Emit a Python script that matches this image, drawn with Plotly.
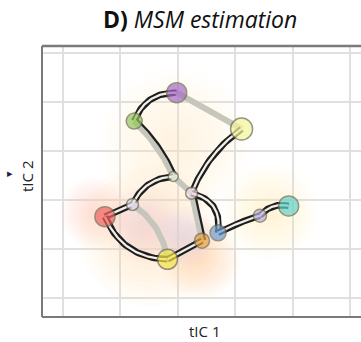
import numpy as np
import plotly.graph_objects as go

# ---- data (tIC units) ----
node_names = ["purple", "green", "lightyellow", "palegreen", "palepink", "lavenderL",
              "red", "yellow", "orange", "blue", "lavenderR", "cyan"]
node_x = [1.98, 1.24, 3.11, 1.92, 2.24, 1.21, 0.73, 1.82, 2.42, 2.70, 3.43, 3.93]
node_y = [4.19, 3.61, 3.45, 2.48, 2.14, 1.91, 1.66, 0.79, 1.17, 1.33, 1.68, 1.88]
node_r = [10, 8, 11, 5, 6, 6, 10, 10, 7.5, 8, 6.5, 10]
node_col = ["#a76bc6", "#93c55c", "#f5f59c", "#e9f1dd", "#f3d9e9", "#e9def0",
            "#f2625e", "#f4e44c", "#e8a33e", "#6d9dd1", "#b9b1dd", "#62d2ca"]

edge_a = ["green", "purple", "green", "lightyellow", "palegreen", "palegreen", "red",
          "lavenderL", "red", "palepink", "palepink", "yellow", "blue", "lavenderR"]
edge_b = ["purple", "lightyellow", "palegreen", "palepink", "lavenderL", "palepink", "lavenderL",
          "yellow", "yellow", "orange", "blue", "orange", "lavenderR", "cyan"]
edge_style = ["double", "gray", "mixed", "double", "double", "gray", "double",
              "gray", "double", "mixed", "double", "double", "double", "double"]
edge_bend = [0.35, 0.0, 0.1, -0.15, -0.3, 0.0, 0.0, 0.22, -0.32, 0.0, 0.45, 0.0, 0.05, 0.3]

glow_x = [1.52, 1.40, 1.95, 3.6, 2.40, 0.55, 2.1]
glow_y = [1.30, 1.50, 3.15, 1.75, 0.80, 1.75, 1.25]
glow_r = [72, 38, 75, 48, 40, 35, 30]
glow_col = [(250, 215, 178), (235, 205, 232), (253, 234, 192), (252, 234, 182),
            (250, 212, 168), (250, 212, 190), (228, 208, 240)]
glow_a = [0.06, 0.065, 0.055, 0.06, 0.065, 0.06, 0.065]

# ---- pixel helpers (for curve geometry only) ----
SX, SY, X0, Y0 = 57.4, 49.0, 63.0, 298.0
def to_px(u, v):
    return X0 + SX * np.asarray(u), Y0 - SY * np.asarray(v)
def to_data(px, py):
    return (np.asarray(px) - X0) / SX, (Y0 - np.asarray(py)) / SY

idx = {n: i for i, n in enumerate(node_names)}

def curve(a, b, bend, offset=0.0):
    ax, ay = to_px(node_x[idx[a]], node_y[idx[a]])
    bx, by = to_px(node_x[idx[b]], node_y[idx[b]])
    dx, dy = bx - ax, by - ay
    L = np.hypot(dx, dy)
    nx, ny = dy / L, -dx / L
    cx, cy = (ax + bx) / 2 + bend * L * nx, (ay + by) / 2 + bend * L * ny
    t = np.linspace(0, 1, 40)
    px = (1 - t) ** 2 * ax + 2 * (1 - t) * t * cx + t ** 2 * bx
    py = (1 - t) ** 2 * ay + 2 * (1 - t) * t * cy + t ** 2 * by
    if offset:
        gx, gy = np.gradient(px), np.gradient(py)
        g = np.hypot(gx, gy)
        px = px + offset * gy / g
        py = py - offset * gx / g
    return to_data(px, py)

fig = go.Figure()

# glow
for gx, gy, gr, gc, ga in zip(glow_x, glow_y, glow_r, glow_col, glow_a):
    n = 12
    for k in range(n):
        s = 2 * gr * (1 - k / n)
        fig.add_trace(go.Scatter(x=[gx], y=[gy], mode="markers", hoverinfo="skip",
                                 marker=dict(size=s, color="rgba(%d,%d,%d,%.3f)" % (gc + (ga,)),
                                             line=dict(width=0))))

# edges
for a, b, st, bd in zip(edge_a, edge_b, edge_style, edge_bend):
    if st == "gray":
        x, y = curve(a, b, bd)
        fig.add_trace(go.Scatter(x=x, y=y, mode="lines", hoverinfo="skip",
                                 line=dict(color="#c6c6bd", width=6)))
    elif st == "double":
        x, y = curve(a, b, bd)
        fig.add_trace(go.Scatter(x=x, y=y, mode="lines", hoverinfo="skip",
                                 line=dict(color="#1e1e1e", width=6.5)))
        fig.add_trace(go.Scatter(x=x, y=y, mode="lines", hoverinfo="skip",
                                 line=dict(color="#f2eee8", width=2.3)))
    else:
        x, y = curve(a, b, bd)
        fig.add_trace(go.Scatter(x=x, y=y, mode="lines", hoverinfo="skip",
                                 line=dict(color="#c6c6bd", width=6)))
        x2, y2 = curve(a, b, bd, offset=3.2)
        fig.add_trace(go.Scatter(x=x2, y=y2, mode="lines", hoverinfo="skip",
                                 line=dict(color="#1e1e1e", width=2.2)))

# nodes
fig.add_trace(go.Scatter(x=node_x, y=node_y, mode="markers", hoverinfo="skip",
                         marker=dict(size=[2 * r for r in node_r], color=node_col,
                                     line=dict(color="#6a6a50", width=1.5))))

fig.update_layout(
    width=361, height=342, showlegend=False,
    margin=dict(l=42, r=0, t=46, b=25),
    paper_bgcolor="white", plot_bgcolor="white",
    xaxis=dict(range=[-0.366, 5.19], dtick=1, tick0=0, showgrid=True, gridcolor="#e0e0e0",
               gridwidth=1.5, zeroline=False, showticklabels=False, fixedrange=True),
    yaxis=dict(range=[-0.388, 5.143], dtick=1, tick0=0, showgrid=True, gridcolor="#e0e0e0",
               gridwidth=1.5, zeroline=False, showticklabels=False, fixedrange=True),
    shapes=[
        dict(type="line", xref="paper", yref="paper", x0=0, x1=0, y0=0, y1=1,
             line=dict(color="#7a7a7a", width=2)),
        dict(type="line", xref="paper", yref="paper", x0=0, x1=1, y0=1, y1=1,
             line=dict(color="#7a7a7a", width=2.5)),
        dict(type="line", xref="paper", yref="paper", x0=0, x1=1, y0=0, y1=0,
             line=dict(color="#7a7a7a", width=2)),
    ],
    annotations=[
        dict(text="<b>D)</b> <i>MSM estimation</i>", xref="paper", yref="paper",
             x=(200 - 42) / 319, y=1 + 27 / 271, xanchor="center", yanchor="middle",
             showarrow=False, font=dict(family="Open Sans", size=23, color="#111")),
        dict(text="tIC 1", xref="paper", yref="paper", x=(204 - 42) / 319, y=-14 / 271,
             xanchor="center", yanchor="middle", showarrow=False,
             font=dict(family="Open Sans", size=15, color="#222")),
        dict(text="tIC 2", xref="paper", yref="paper", x=-15 / 319, y=(317 - 177) / 271,
             xanchor="center", yanchor="middle", textangle=-90, showarrow=False,
             font=dict(family="Open Sans", size=15, color="#222")),
        dict(text="▸", xref="paper", yref="paper", x=-32 / 319, y=(317 - 172) / 271,
             xanchor="center", yanchor="middle", showarrow=False,
             font=dict(size=11, color="#1c2150")),
    ],
)

fig.write_html("out.html")
